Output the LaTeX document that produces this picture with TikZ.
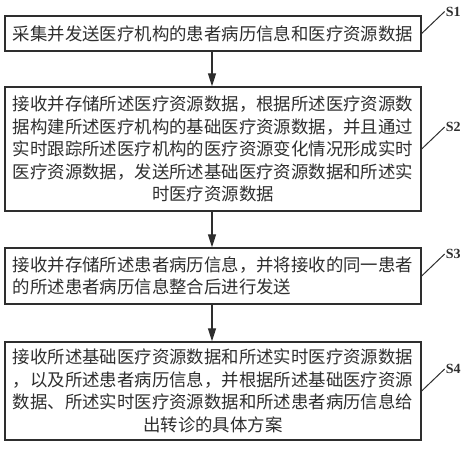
\documentclass[tikz,border=0pt]{standalone}
\usepackage{fontspec}
\newfontfamily\cjk{Noto Sans CJK SC}
\newfontfamily\lab{Liberation Serif}
\usetikzlibrary{arrows.meta}
\definecolor{ink}{HTML}{2E2E2E}
\tikzset{
  stepbox/.style={draw=ink, line width=1.3pt, minimum width=416pt, inner sep=0pt,
    text=ink, font=\cjk\fontsize{17.4}{22.5}\selectfont},
  flow/.style={draw=ink, line width=1.2pt, -{Triangle[length=13pt,width=8pt]}},
  leader/.style={draw=ink, line width=1pt},
  steplabel/.style={anchor=west, inner sep=0pt, text=ink, font=\lab\bfseries\fontsize{14}{14}\selectfont}
}
\begin{document}
\begin{tikzpicture}[x=1pt,y=-1pt]
\useasboundingbox (0,0) rectangle (469,450);
\node[stepbox, minimum height=35pt, align=center] (b1) at (213,33.5)
  {采集并发送医疗机构的患者病历信息和医疗资源数据};
\node[stepbox, minimum height=124pt, align=center] (b2) at (213,149)
  {接收并存储所述医疗资源数据，根据所述医疗资源数\\
   据构建所述医疗机构的基础医疗资源数据，并且通过\\
   实时跟踪所述医疗机构的医疗资源变化情况形成实时\\
   医疗资源数据，发送所述基础医疗资源数据和所述实\\
   时医疗资源数据};
\node[stepbox, minimum height=56pt, align=left] (b3) at (213,276)
  {接收并存储所述患者病历信息，并将接收的同一患者\\
   的所述患者病历信息整合后进行发送};
\node[stepbox, minimum height=98pt, align=center] (b4) at (213,391)
  {接收所述基础医疗资源数据和所述实时医疗资源数据\\
   ，以及所述患者病历信息，并根据所述基础医疗资源\\
   数据、所述实时医疗资源数据和所述患者病历信息给\\
   出转诊的具体方案};
\draw[flow] (b1.south -| 212,0) -- (b2.north -| 212,0);
\draw[flow] (b2.south -| 212,0) -- (b3.north -| 212,0);
\draw[flow] (b3.south -| 212,0) -- (b4.north -| 212,0);
\coordinate (e1) at ([shift={(23,-22)}]b1.east);
\coordinate (e2) at ([shift={(23,-22)}]b2.east);
\coordinate (e3) at ([shift={(23,-22)}]b3.east);
\coordinate (e4) at ([shift={(23,-22)}]b4.east);
\draw[leader] (b1.east) -- (e1);
\draw[leader] (b2.east) -- (e2);
\draw[leader] (b3.east) -- (e3);
\draw[leader] (b4.east) -- (e4);
\node[steplabel] (l1) at ([shift={(1,0)}]e1) {S1};
\node[steplabel] (l2) at ([shift={(1,0)}]e2) {S2};
\node[steplabel] (l3) at ([shift={(1,0)}]e3) {S3};
\node[steplabel] (l4) at ([shift={(1,0)}]e4) {S4};
\end{tikzpicture}
\end{document}
